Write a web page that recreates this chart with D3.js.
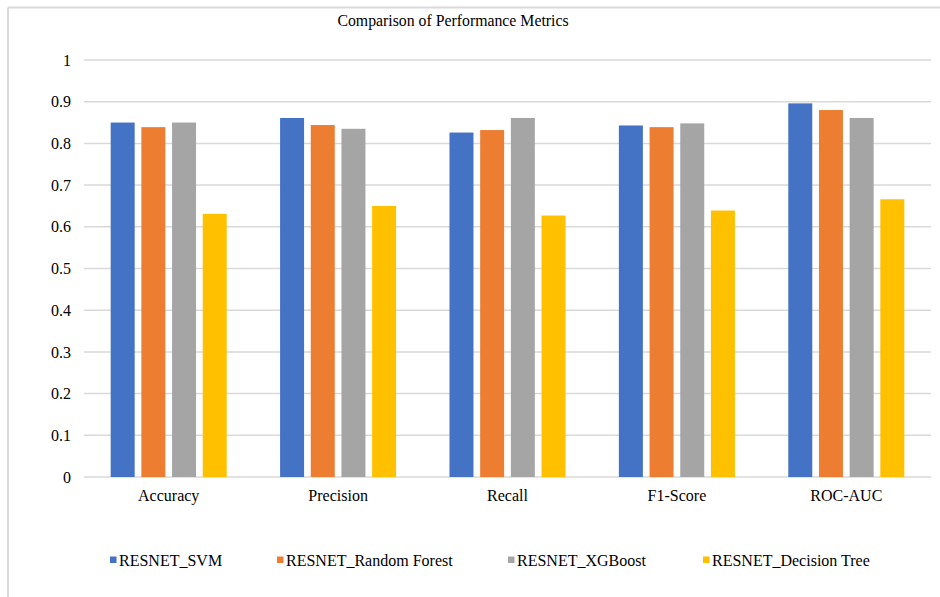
<!DOCTYPE html>
<html>
<head>
<meta charset="utf-8">
<script src="https://cdn.jsdelivr.net/npm/d3@7"></script>
<style>
  html, body { margin: 0; padding: 0; background: #fff; }
  svg { display: block; }
  svg text { font-family: "Liberation Serif", "Times New Roman", serif !important; }
</style>
</head>
<body>
<svg id="chart" width="940" height="597"></svg>
<script>
// Metric categories along the x axis
const categories = ["Accuracy", "Precision", "Recall", "F1-Score", "ROC-AUC"];

// Model series (one bar per metric)
const seriesNames = ["RESNET_SVM", "RESNET_Random Forest", "RESNET_XGBoost", "RESNET_Decision Tree"];
const svmValues      = [0.850, 0.861, 0.826, 0.843, 0.896];
const rfValues       = [0.839, 0.844, 0.832, 0.839, 0.880];
const xgbValues      = [0.850, 0.835, 0.861, 0.848, 0.861];
const dtreeValues    = [0.631, 0.650, 0.627, 0.639, 0.666];
const seriesColors   = ["#4472C4", "#ED7D31", "#A5A5A5", "#FFC000"];

// y-axis tick labels
const yTicks = [0, 0.1, 0.2, 0.3, 0.4, 0.5, 0.6, 0.7, 0.8, 0.9, 1];
const yTickLabels = ["0", "0.1", "0.2", "0.3", "0.4", "0.5", "0.6", "0.7", "0.8", "0.9", "1"];

const seriesValues = [svmValues, rfValues, xgbValues, dtreeValues];
const rows = categories.map((c, i) => ({
  category: c,
  values: seriesNames.map((s, j) => ({ series: s, value: seriesValues[j][i], color: seriesColors[j] }))
}));

const svg = d3.select("#chart");

// Outer chart frame (top and left edges visible)
svg.append("line").attr("x1", 8).attr("x2", 940).attr("y1", 7.5).attr("y2", 7.5)
  .attr("stroke", "#d9d9d9").attr("stroke-width", 2);
svg.append("line").attr("x1", 8).attr("x2", 8).attr("y1", 7.5).attr("y2", 597)
  .attr("stroke", "#d9d9d9").attr("stroke-width", 2);

const plot = { left: 84, right: 931, top: 60, bottom: 477 };

const x0 = d3.scaleBand().domain(categories)
  .range([plot.left, plot.right]).paddingInner(0.315).paddingOuter(0.1575);
const x1 = d3.scaleBand().domain(seriesNames)
  .range([0, x0.bandwidth()]).paddingInner(0.218).paddingOuter(0);
const y = d3.scaleLinear().domain([0, 1]).range([plot.bottom, plot.top]);

// Title
svg.append("text")
  .attr("x", 453).attr("y", 26)
  .attr("text-anchor", "middle")
  .attr("font-size", 15.8)
  .attr("fill", "#000")
  .text("Comparison of Performance Metrics");

// Horizontal gridlines
svg.append("g")
  .selectAll("line")
  .data(yTicks)
  .join("line")
  .attr("x1", plot.left).attr("x2", plot.right)
  .attr("y1", d => y(d)).attr("y2", d => y(d))
  .attr("stroke", "#d9d9d9")
  .attr("stroke-width", 1.5);

// y axis labels
const yAxis = d3.axisLeft(y)
  .tickValues(yTicks)
  .tickFormat((d, i) => yTickLabels[i])
  .tickSize(0)
  .tickPadding(0);
const yg = svg.append("g").attr("transform", `translate(${plot.left - 13},0)`).call(yAxis);
yg.attr("font-family", null).attr("font-size", null);
yg.select(".domain").remove();
yg.selectAll("text").attr("font-size", 16).attr("fill", "#000");

// Bars
const groups = svg.append("g")
  .selectAll("g")
  .data(rows)
  .join("g")
  .attr("transform", d => `translate(${x0(d.category)},0)`);

groups.selectAll("rect")
  .data(d => d.values)
  .join("rect")
  .attr("x", d => x1(d.series))
  .attr("width", x1.bandwidth())
  .attr("y", d => y(d.value))
  .attr("height", d => y(0) - y(d.value))
  .attr("fill", d => d.color);

// x axis category labels
const xAxis = d3.axisBottom(x0).tickSize(0).tickPadding(0);
const xg = svg.append("g").attr("transform", `translate(0,${plot.bottom + 13})`).call(xAxis);
xg.attr("font-family", null).attr("font-size", null);
xg.select(".domain").remove();
xg.selectAll("text").attr("font-size", 16).attr("fill", "#000");

// Legend
const legendX = [110, 277, 508, 703];
const legend = svg.append("g")
  .selectAll("g")
  .data(seriesNames)
  .join("g")
  .attr("transform", (d, i) => `translate(${legendX[i]},560)`);
legend.append("rect")
  .attr("x", 0).attr("y", -3.5).attr("width", 6.5).attr("height", 6.5)
  .attr("fill", (d, i) => seriesColors[i]);
legend.append("text")
  .attr("x", 9).attr("y", 6)
  .attr("font-size", 16)
  .attr("fill", "#000")
  .text(d => d);
</script>
</body>
</html>
